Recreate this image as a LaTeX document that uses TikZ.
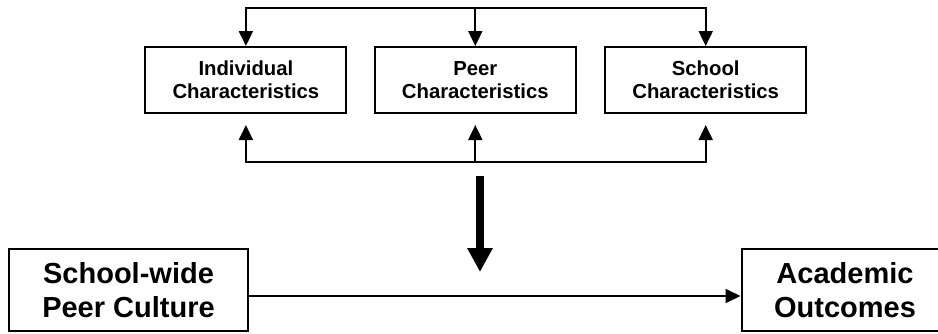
\documentclass[tikz,border=0pt]{standalone}
\usepackage{fontspec}
\setmainfont{Liberation Sans}
\usetikzlibrary{arrows.meta,positioning}
\tikzset{%
	block/.style    = {draw, rectangle, line width=2pt, minimum width=201pt, minimum height=66pt, inner sep=0pt, align=center, font=\fontsize{20.3}{23.3}\selectfont\bfseries},
	bigblock/.style = {draw, rectangle, line width=2pt, minimum height=82pt, inner sep=0pt, align=center, font=\fontsize{29}{33.3}\selectfont\bfseries},
	arrow/.style    = {line width=1.9pt, -{Triangle[length=15pt,width=14pt]}},
	bigarrow/.style = {line width=8pt, -{Triangle[length=24pt,width=24pt]}},
}

\begin{document}
\begin{tikzpicture}[x=1pt,y=1pt]
	\useasboundingbox (0,0) rectangle (938,333);
	\node [block] (peer) at (475.3,253) {Peer\\Characteristics};
	\node [block] (indiv) [left=26.4pt of peer] {Individual\\Characteristics};
	\node [block] (school) [right=27.4pt of peer] {School\\Characteristics};
	\node [bigblock, minimum width=239pt] (culture) at (128.5,43) {School-wide\\Peer Culture};
	\node [bigblock, minimum width=207pt] (outcome) at (845,43) {Academic\\Outcomes};
	\coordinate (top) at ([yshift=38pt]peer.north);
	\coordinate (bot) at ([yshift=-48pt]peer.south);
	\coordinate (modtop) at (480,157);
	\coordinate (modtip) at (480,61);
	
	\draw[arrow] (top) -| (indiv.north);
	\draw[arrow] (top) -- (peer.north);
	\draw[arrow] (top) -| (school.north);
	\draw[arrow, shorten >=11pt] (bot) -| (indiv.south);
	\draw[arrow, shorten >=11pt] (bot) -- (peer.south);
	\draw[arrow, shorten >=11pt] (bot) -| (school.south);
	\draw[bigarrow] (modtop) -- (modtip);
	\draw[arrow] ([yshift=-6pt]culture.east) -- ([yshift=-6pt]outcome.west);
\end{tikzpicture}
\end{document}
